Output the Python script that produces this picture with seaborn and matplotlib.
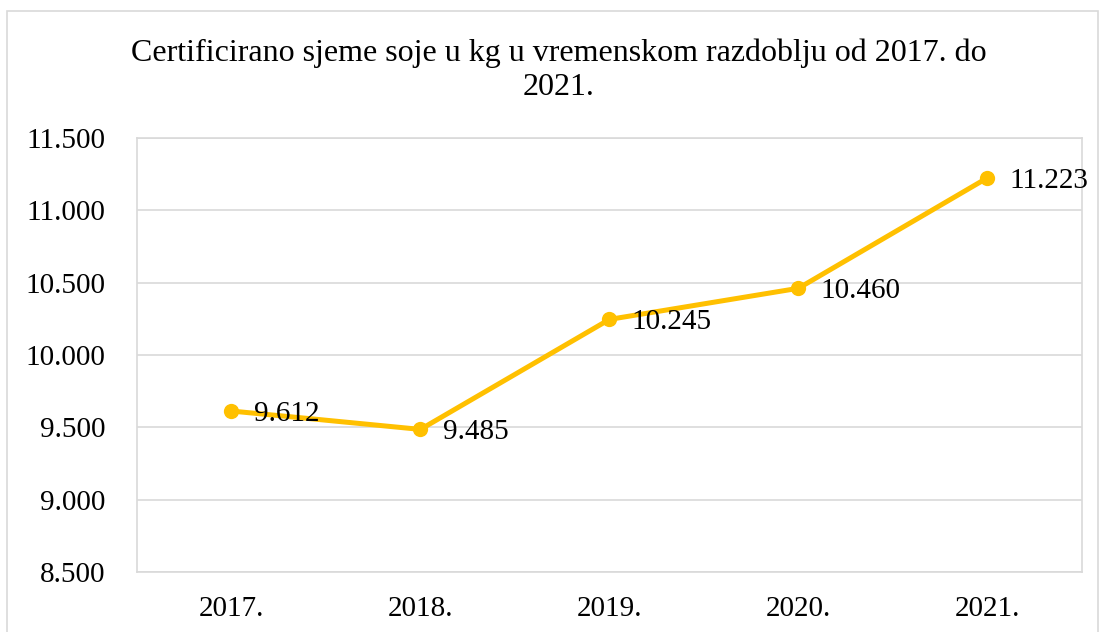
import matplotlib
matplotlib.use("Agg")
import matplotlib.pyplot as plt
import matplotlib.ticker as mticker
from matplotlib.patches import Rectangle
import pandas as pd
import seaborn as sns

# Podaci
godine = ["2017.", "2018.", "2019.", "2020.", "2021."]
kolicina_kg = [9612, 9485, 10245, 10460, 11223]
y_ticks = [8500, 9000, 9500, 10000, 10500, 11000, 11500]
naslov = "Certificirano sjeme soje u kg u vremenskom razdoblju od 2017. do\n2021."

df = pd.DataFrame({"godina": godine, "kg": kolicina_kg})

sns.set_style("white")
plt.rcParams["font.family"] = ["Liberation Serif", "DejaVu Serif"]

fig = plt.figure(figsize=(11, 6.32), dpi=100)
ax = fig.add_axes([0.1245, 0.095, 0.859, 0.687])

boja = "#FFC000"
sns.lineplot(data=df, x="godina", y="kg", ax=ax, color=boja, linewidth=3.6,
             marker="o", markersize=11, markeredgewidth=0, sort=False)

# Oznake vrijednosti
fmt = lambda v: f"{v:,.0f}".replace(",", ".")
for i, v in enumerate(kolicina_kg):
    ax.annotate(fmt(v), (i, v), xytext=(16, -2), textcoords="offset points",
                ha="left", va="center", fontsize=21, color="black")

ax.set_xlim(-0.5, len(godine) - 0.5)
ax.set_ylim(8500, 11500)
ax.set_yticks(y_ticks)
ax.yaxis.set_major_formatter(mticker.FuncFormatter(lambda v, p: fmt(v)))
ax.grid(axis="y", color="#d9d9d9", linewidth=1.2)
ax.set_axisbelow(True)
for s in ax.spines.values():
    s.set_color("#d9d9d9")
    s.set_linewidth(1.2)
ax.tick_params(axis="both", length=0, labelsize=21, colors="black")
ax.tick_params(axis="y", pad=23)
ax.tick_params(axis="x", pad=17)
ax.set_xlabel("")
ax.set_ylabel("")

fig.text(0.508, 0.889, naslov, ha="center", va="center", fontsize=23,
         linespacing=1.25, color="black")

# Okvir grafikona
fig.patches.append(Rectangle((0.0065, -0.05), 0.992, 1.033, transform=fig.transFigure,
                             fill=False, edgecolor="#d9d9d9", linewidth=1.2))

fig.savefig("out.png", dpi=100, facecolor="white")
